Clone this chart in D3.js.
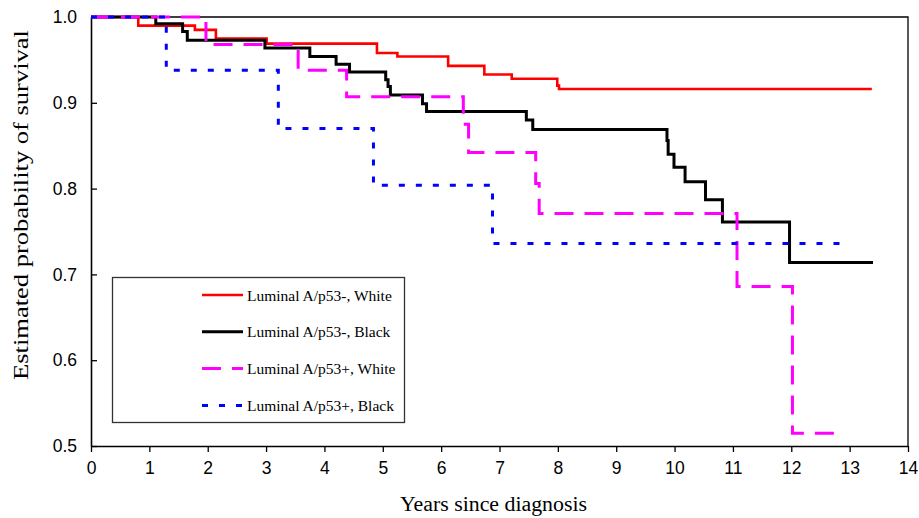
<!DOCTYPE html>
<html>
<head>
<meta charset="utf-8">
<script src="https://cdn.jsdelivr.net/npm/d3@7.9.0/dist/d3.min.js"></script>
<style>
  body { margin: 0; background: #fff; }
  svg { display: block; font-family: "Times New Roman", "Liberation Serif", serif; }
</style>
</head>
<body>
<svg id="chart" width="919" height="518"></svg>
<script>
// Kaplan-Meier step curves
const whiteNegTimes = [0, 0.81, 1.78, 2.14, 3.01, 4.9, 5.25, 6.12, 6.74, 7.21, 7.99, 8.02, 13.38];
const whiteNegSurv  = [1.0, 0.99, 0.985, 0.975, 0.969, 0.958, 0.954, 0.943, 0.933, 0.928, 0.92, 0.916, 0.916];

const blackNegTimes = [0, 1.11, 1.57, 1.65, 2.98, 3.75, 4.2, 4.43, 5.05, 5.09, 5.13, 5.68, 5.75, 7.46, 7.57, 9.87, 9.89, 9.99, 10.18, 10.53, 10.82, 11.97, 13.4];
const blackNegSurv  = [1.0, 0.992, 0.983, 0.973, 0.964, 0.954, 0.945, 0.936, 0.927, 0.919, 0.909, 0.899, 0.89, 0.88, 0.869, 0.856, 0.84, 0.825, 0.808, 0.787, 0.761, 0.714, 0.714];

const whitePosTimes = [0, 1.97, 3.55, 4.38, 6.38, 6.47, 7.62, 7.68, 11.07, 12.02, 12.9];
const whitePosSurv  = [1.0, 0.968, 0.938, 0.907, 0.875, 0.842, 0.806, 0.771, 0.686, 0.515, 0.515];

const blackPosTimes = [0, 1.29, 3.21, 4.84, 6.88, 12.95];
const blackPosSurv  = [1.0, 0.938, 0.870, 0.804, 0.736, 0.736];

const seriesLabels = ["Luminal A/p53-, White", "Luminal A/p53-, Black", "Luminal A/p53+, White", "Luminal A/p53+, Black"];
const xTicks = d3.range(0, 15);
const yTicks = [0.5, 0.6, 0.7, 0.8, 0.9, 1.0];

const series = [
  { label: seriesLabels[0], times: whiteNegTimes, surv: whiteNegSurv, color: "#ff0000", width: 2.6, dash: null },
  { label: seriesLabels[1], times: blackNegTimes, surv: blackNegSurv, color: "#000000", width: 3, dash: null },
  { label: seriesLabels[2], times: whitePosTimes, surv: whitePosSurv, color: "#ff00ff", width: 3, dash: "19,11" },
  { label: seriesLabels[3], times: blackPosTimes, surv: blackPosSurv, color: "#0000ff", width: 3, dash: "6,11" }
];

const svg = d3.select("#chart");
const margin = { top: 17, right: 11, bottom: 72, left: 91 };
const width = 919, height = 518;

const x = d3.scaleLinear().domain([0, 14]).range([margin.left, width - margin.right]);
const y = d3.scaleLinear().domain([0.5, 1.0]).range([height - margin.bottom, margin.top]);

// frame (top + right)
svg.append("path")
  .attr("d", `M${x(0)},${y(1)}H${x(14)}V${y(0.5)}`)
  .attr("fill", "none")
  .attr("stroke", "#000")
  .attr("stroke-width", 1.3);

// axes
const xAxis = svg.append("g")
  .attr("transform", `translate(0,${y(0.5)})`)
  .call(d3.axisBottom(x).tickValues(xTicks).tickSize(6).tickSizeOuter(0).tickPadding(9.5).tickFormat(d3.format("d")));

const yAxis = svg.append("g")
  .attr("transform", `translate(${x(0)},0)`)
  .call(d3.axisLeft(y).tickValues(yTicks).tickSize(-6).tickSizeOuter(0).tickPadding(14).tickFormat(d3.format(".1f")));

[xAxis, yAxis].forEach((g) => {
  g.select(".domain").attr("stroke-width", 1.6);
  g.selectAll(".tick line").attr("stroke-width", 1.3);
  g.selectAll("text").attr("font-size", 17.5).attr("font-family", null).attr("fill", "#000");
});

// curves
const line = d3.line()
  .x((d) => x(d[0]))
  .y((d) => y(d[1]))
  .curve(d3.curveStepAfter);

svg.append("g").selectAll("path")
  .data(series)
  .join("path")
  .attr("d", (s) => line(d3.zip(s.times, s.surv)))
  .attr("fill", "none")
  .attr("stroke", (s) => s.color)
  .attr("stroke-width", (s) => s.width)
  .attr("stroke-dasharray", (s) => s.dash);

// axis titles
svg.append("text")
  .attr("x", 400)
  .attr("y", 511)
  .attr("font-size", 20)
  .attr("textLength", 187)
  .attr("lengthAdjust", "spacingAndGlyphs")
  .text("Years since diagnosis");

svg.append("text")
  .attr("transform", "translate(28,380) rotate(-90)")
  .attr("font-size", 22)
  .attr("textLength", 350)
  .attr("lengthAdjust", "spacingAndGlyphs")
  .text("Estimated probability of survival");

// legend
const legend = svg.append("g");
legend.append("rect")
  .attr("x", 112.5).attr("y", 277.5)
  .attr("width", 292).attr("height", 145)
  .attr("fill", "#fff")
  .attr("stroke", "#333")
  .attr("stroke-width", 1.3);

const rows = legend.selectAll("g.row")
  .data(series)
  .join("g")
  .attr("class", "row")
  .attr("transform", (d, i) => `translate(0,${295 + i * 36.8})`);

rows.append("line")
  .attr("x1", 202).attr("x2", 243)
  .attr("stroke", (s) => s.color)
  .attr("stroke-width", (s) => s.width)
  .attr("stroke-dasharray", (s) => s.dash);

rows.append("text")
  .attr("x", 247)
  .attr("y", 5.5)
  .attr("font-size", 15.5)
  .text((s) => s.label);
</script>
</body>
</html>
